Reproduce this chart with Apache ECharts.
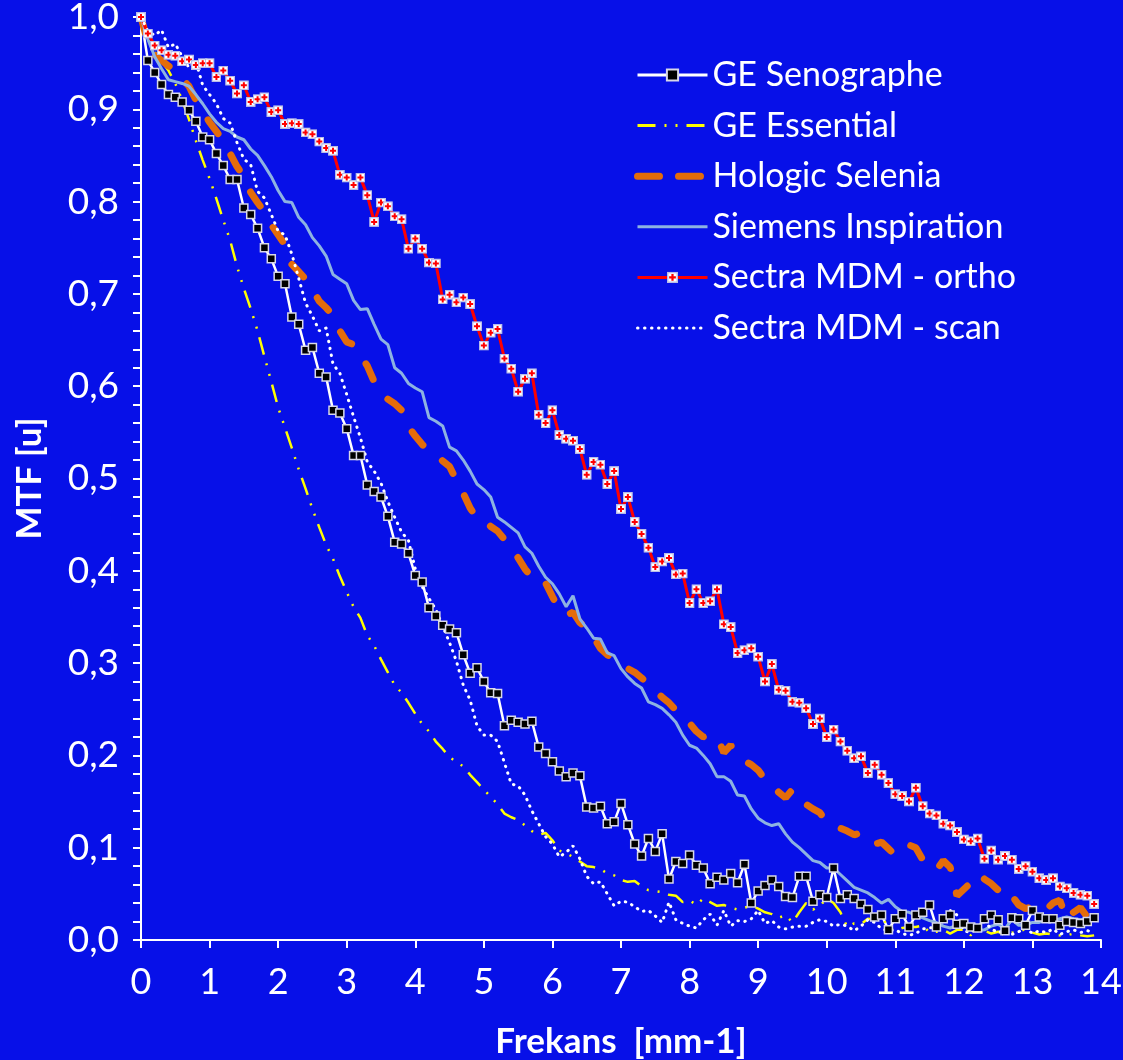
<!DOCTYPE html>
<html>
<head>
<meta charset="utf-8">
<script src="https://cdn.jsdelivr.net/npm/echarts@6/dist/echarts.min.js"></script>
<style>
html,body{margin:0;padding:0;background:#0710e8;}
#chart{width:1123px;height:1060px;}
</style>
</head>
<body>
<div id="chart"></div>
<script>
// Spatial frequency (mm-1)
const freq = [0,0.1,0.2,0.3,0.4,0.5,0.6,0.7,0.8,0.9,1,1.1,1.2,1.3,1.4,1.5,1.6,1.7,1.8,1.9,2,2.1,2.2,2.3,2.4,2.5,2.6,2.7,2.8,2.9,3,3.1,3.2,3.3,3.4,3.5,3.6,3.7,3.8,3.9,4,4.1,4.2,4.3,4.4,4.5,4.6,4.7,4.8,4.9,5,5.1,5.2,5.3,5.4,5.5,5.6,5.7,5.8,5.9,6,6.1,6.2,6.3,6.4,6.5,6.6,6.7,6.8,6.9,7,7.1,7.2,7.3,7.4,7.5,7.6,7.7,7.8,7.9,8,8.1,8.2,8.3,8.4,8.5,8.6,8.7,8.8,8.9,9,9.1,9.2,9.3,9.4,9.5,9.6,9.7,9.8,9.9,10,10.1,10.2,10.3,10.4,10.5,10.6,10.7,10.8,10.9,11,11.1,11.2,11.3,11.4,11.5,11.6,11.7,11.8,11.9,12,12.1,12.2,12.3,12.4,12.5,12.6,12.7,12.8,12.9,13,13.1,13.2,13.3,13.4,13.5,13.6,13.7,13.8,13.9];

const geSenographe = [1.000,0.953,0.940,0.927,0.916,0.913,0.908,0.899,0.887,0.870,0.867,0.852,0.839,0.824,0.824,0.793,0.786,0.771,0.750,0.738,0.719,0.711,0.675,0.667,0.639,0.642,0.614,0.610,0.574,0.571,0.554,0.525,0.525,0.493,0.486,0.480,0.459,0.431,0.429,0.419,0.395,0.388,0.360,0.351,0.341,0.337,0.333,0.309,0.289,0.295,0.280,0.268,0.267,0.232,0.238,0.236,0.234,0.237,0.209,0.202,0.193,0.183,0.177,0.181,0.178,0.144,0.143,0.145,0.126,0.128,0.148,0.125,0.104,0.091,0.110,0.096,0.115,0.066,0.085,0.083,0.092,0.081,0.078,0.061,0.068,0.065,0.072,0.062,0.082,0.040,0.053,0.059,0.065,0.058,0.047,0.046,0.069,0.069,0.042,0.049,0.046,0.078,0.045,0.049,0.045,0.039,0.033,0.025,0.027,0.011,0.023,0.028,0.014,0.027,0.030,0.038,0.014,0.023,0.027,0.017,0.018,0.014,0.013,0.023,0.027,0.022,0.010,0.024,0.023,0.016,0.032,0.025,0.023,0.023,0.016,0.020,0.019,0.018,0.020,0.024];

const geEssential = [1.000,0.975,0.962,0.952,0.942,0.928,0.910,0.889,0.866,0.845,0.825,0.803,0.780,0.758,0.730,0.706,0.684,0.660,0.632,0.605,0.577,0.555,0.533,0.510,0.489,0.467,0.447,0.428,0.413,0.394,0.377,0.361,0.349,0.330,0.319,0.304,0.290,0.276,0.268,0.257,0.245,0.234,0.226,0.215,0.207,0.198,0.193,0.188,0.179,0.171,0.163,0.155,0.147,0.137,0.133,0.130,0.124,0.118,0.114,0.116,0.108,0.097,0.094,0.090,0.085,0.080,0.079,0.077,0.072,0.070,0.065,0.063,0.064,0.058,0.054,0.053,0.052,0.049,0.048,0.041,0.043,0.038,0.045,0.041,0.037,0.038,0.035,0.033,0.035,0.037,0.034,0.030,0.028,0.024,0.027,0.019,0.030,0.040,0.033,0.037,0.045,0.040,0.030,0.014,0.018,0.017,0.023,0.022,0.026,0.013,0.010,0.013,0.014,0.014,0.016,0.008,0.009,0.011,0.007,0.011,0.011,0.005,0.014,0.010,0.007,0.009,0.005,0.008,0.009,0.012,0.008,0.006,0.007,0.006,0.005,0.005,0.007,0.005,0.004,0.005];

const hologicSelenia = [1.000,0.972,0.959,0.953,0.947,0.942,0.933,0.925,0.910,0.898,0.886,0.876,0.866,0.852,0.838,0.827,0.810,0.799,0.789,0.775,0.764,0.753,0.732,0.724,0.716,0.705,0.692,0.685,0.677,0.660,0.648,0.645,0.634,0.622,0.605,0.593,0.586,0.581,0.574,0.556,0.546,0.537,0.530,0.525,0.519,0.513,0.498,0.484,0.468,0.457,0.455,0.448,0.443,0.434,0.424,0.414,0.402,0.393,0.394,0.387,0.372,0.358,0.352,0.355,0.344,0.338,0.328,0.316,0.309,0.304,0.298,0.294,0.290,0.284,0.277,0.270,0.263,0.257,0.249,0.242,0.235,0.226,0.220,0.222,0.220,0.203,0.211,0.200,0.194,0.190,0.184,0.174,0.168,0.160,0.154,0.163,0.152,0.147,0.142,0.138,0.128,0.125,0.121,0.118,0.114,0.116,0.110,0.104,0.106,0.099,0.092,0.098,0.103,0.100,0.087,0.080,0.076,0.086,0.079,0.048,0.055,0.062,0.072,0.066,0.061,0.054,0.058,0.048,0.038,0.034,0.036,0.038,0.033,0.040,0.043,0.022,0.030,0.035,0.025,0.034];

const siemensInspiration = [1.000,0.976,0.957,0.944,0.932,0.930,0.928,0.925,0.916,0.906,0.895,0.886,0.879,0.876,0.870,0.867,0.857,0.850,0.839,0.827,0.812,0.800,0.799,0.783,0.775,0.761,0.752,0.741,0.721,0.716,0.711,0.693,0.683,0.684,0.667,0.651,0.645,0.620,0.614,0.603,0.598,0.594,0.566,0.562,0.557,0.534,0.530,0.520,0.508,0.494,0.488,0.480,0.458,0.453,0.447,0.441,0.426,0.419,0.405,0.393,0.386,0.375,0.361,0.373,0.348,0.338,0.327,0.326,0.311,0.308,0.294,0.285,0.278,0.273,0.258,0.255,0.251,0.244,0.236,0.222,0.211,0.208,0.200,0.191,0.177,0.177,0.172,0.157,0.156,0.142,0.132,0.127,0.124,0.126,0.115,0.106,0.100,0.093,0.086,0.084,0.078,0.078,0.071,0.064,0.057,0.054,0.051,0.046,0.040,0.044,0.036,0.031,0.030,0.027,0.024,0.021,0.019,0.015,0.013,0.016,0.014,0.012,0.010,0.011,0.015,0.017,0.012,0.022,0.016,0.016,0.019,0.019,0.022,0.021,0.023,0.025,0.023,0.022,0.023,0.025];

const sectraOrtho = [1.000,0.982,0.969,0.964,0.959,0.958,0.952,0.954,0.948,0.950,0.950,0.935,0.942,0.931,0.917,0.926,0.908,0.911,0.913,0.897,0.899,0.884,0.885,0.884,0.875,0.873,0.865,0.858,0.855,0.829,0.826,0.818,0.826,0.807,0.778,0.799,0.795,0.784,0.781,0.749,0.760,0.749,0.734,0.733,0.694,0.699,0.691,0.696,0.689,0.665,0.644,0.658,0.662,0.630,0.619,0.594,0.608,0.614,0.569,0.560,0.574,0.547,0.543,0.541,0.532,0.504,0.518,0.515,0.494,0.508,0.467,0.480,0.453,0.440,0.425,0.404,0.410,0.414,0.396,0.397,0.365,0.380,0.365,0.367,0.380,0.342,0.339,0.311,0.314,0.316,0.307,0.280,0.299,0.271,0.270,0.258,0.257,0.251,0.234,0.240,0.220,0.228,0.215,0.205,0.197,0.199,0.181,0.190,0.179,0.170,0.158,0.156,0.150,0.165,0.145,0.137,0.135,0.126,0.124,0.117,0.109,0.107,0.110,0.088,0.097,0.087,0.091,0.087,0.077,0.080,0.074,0.067,0.065,0.067,0.058,0.056,0.051,0.049,0.048,0.039];

const sectraScan = [1.000,0.985,0.980,0.986,0.967,0.971,0.957,0.945,0.952,0.926,0.916,0.906,0.890,0.885,0.864,0.846,0.840,0.811,0.804,0.786,0.768,0.764,0.743,0.717,0.690,0.676,0.660,0.663,0.624,0.614,0.591,0.567,0.544,0.518,0.508,0.495,0.475,0.458,0.442,0.433,0.402,0.383,0.370,0.358,0.340,0.322,0.302,0.276,0.260,0.232,0.222,0.222,0.215,0.192,0.169,0.167,0.157,0.140,0.126,0.112,0.104,0.090,0.095,0.102,0.088,0.069,0.061,0.063,0.050,0.037,0.042,0.041,0.036,0.031,0.032,0.026,0.019,0.041,0.022,0.018,0.015,0.013,0.022,0.028,0.016,0.032,0.015,0.021,0.020,0.023,0.032,0.018,0.021,0.014,0.012,0.014,0.015,0.015,0.019,0.022,0.020,0.015,0.017,0.015,0.010,0.015,0.022,0.019,0.012,0.010,0.011,0.007,0.005,0.007,0.012,0.013,0.014,0.020,0.032,0.027,0.010,0.008,0.014,0.020,0.012,0.008,0.011,0.006,0.009,0.013,0.007,0.010,0.008,0.012,0.006,0.009,0.011,0.008,0.010,0.009];

const seriesNames = ['GE Senographe','GE Essential','Hologic Selenia','Siemens Inspiration','Sectra MDM - ortho','Sectra MDM - scan'];
const yTickLabels = ['0,0','0,1','0,2','0,3','0,4','0,5','0,6','0,7','0,8','0,9','1,0'];
const xTickLabels = ['0','1','2','3','4','5','6','7','8','9','10','11','12','13','14'];

const pairs = vals => freq.map((f, i) => [f, vals[i]]);

const orthoSvg = '<svg xmlns="http://www.w3.org/2000/svg" width="11" height="11"><rect x="0.75" y="0.75" width="9.5" height="9.5" fill="#ffffff" stroke="#b8bce8" stroke-width="1.5"/><path d="M4.4 2.2h2.2v2.2h2.2v2.2h-2.2v2.2h-2.2v-2.2h-2.2v-2.2h2.2z" fill="#ff0000"/></svg>';
const orthoSymbol = 'image://data:image/svg+xml;charset=utf-8,' + encodeURIComponent(orthoSvg);

const FONT = 'Lato';
const noMarker = { opacity: 0 };
const chart = echarts.init(document.getElementById('chart'));
chart.setOption({
  backgroundColor: '#0710e8',
  animation: false,
  grid: { left: 141, top: 17, right: 22, bottom: 120, outerBoundsMode: 'none', containLabel: false },
  legend: {
    orient: 'vertical',
    left: 634,
    top: 56,
    padding: 0,
    itemWidth: 70,
    itemHeight: 14,
    itemGap: 12.6,
    textStyle: { color: '#ffffff', fontSize: 34, fontFamily: FONT, lineHeight: 38 },
    data: [
      { name: seriesNames[0], lineStyle: { width: 3 } },
      { name: seriesNames[1], itemStyle: noMarker, lineStyle: { width: 3 } },
      { name: seriesNames[2], itemStyle: noMarker, lineStyle: { width: 7, type: [22, 19], cap: 'round' } },
      { name: seriesNames[3], itemStyle: noMarker, lineStyle: { width: 3 } },
      { name: seriesNames[4], lineStyle: { width: 3 } },
      { name: seriesNames[5], itemStyle: noMarker, lineStyle: { width: 3 } }
    ]
  },
  xAxis: {
    type: 'value', min: 0, max: 14, interval: 1,
    name: 'Frekans  [mm-1]', nameLocation: 'middle', nameGap: 84,
    nameTextStyle: { color: '#ffffff', fontSize: 35, fontWeight: 'bold', fontFamily: FONT },
    axisLine: { show: true, lineStyle: { color: '#ffffff', width: 2 } },
    axisTick: { show: true, inside: false, length: 8, lineStyle: { color: '#ffffff', width: 2 } },
    axisLabel: { color: '#ffffff', fontSize: 36, fontFamily: FONT, margin: 24,
      formatter: v => xTickLabels[Math.round(v)] },
    splitLine: { show: false }
  },
  yAxis: {
    type: 'value', min: 0, max: 1, interval: 0.1,
    name: 'MTF [u]', nameLocation: 'middle', nameGap: 94, nameRotate: 90,
    nameTextStyle: { color: '#ffffff', fontSize: 35, fontWeight: 'bold', fontFamily: FONT },
    axisLine: { show: true, lineStyle: { color: '#ffffff', width: 2 } },
    axisTick: { show: true, inside: false, length: 8, lineStyle: { color: '#ffffff', width: 2 } },
    minorTick: { show: true, splitNumber: 5, length: 8, lineStyle: { color: '#ffffff', width: 2 } },
    axisLabel: { color: '#ffffff', fontSize: 37, fontFamily: FONT, margin: 22,
      formatter: v => yTickLabels[Math.round(v * 10)] },
    splitLine: { show: false }
  },
  series: [
    { name: seriesNames[0], type: 'line', data: pairs(geSenographe), clip: false,
      symbol: 'rect', symbolSize: 8, showAllSymbol: true,
      itemStyle: { color: '#000000', borderColor: '#d8d8e8', borderWidth: 1.5 },
      lineStyle: { color: '#ffffff', width: 2.5 } },
    { name: seriesNames[1], type: 'line', data: pairs(geEssential), clip: false,
      symbol: 'none', itemStyle: { color: '#ffff00' },
      lineStyle: { color: '#ffff00', width: 2.5, type: [18, 9, 2, 9, 2, 9] } },
    { name: seriesNames[2], type: 'line', data: pairs(hologicSelenia), clip: false,
      symbol: 'none', itemStyle: { color: '#e46c0a' },
      lineStyle: { color: '#e46c0a', width: 7, type: [17, 25], cap: 'round' } },
    { name: seriesNames[3], type: 'line', data: pairs(siemensInspiration), clip: false,
      symbol: 'none', itemStyle: { color: '#8db3e2' },
      lineStyle: { color: '#8db3e2', width: 3 } },
    { name: seriesNames[4], type: 'line', data: pairs(sectraOrtho), clip: false,
      symbol: orthoSymbol, symbolSize: 10, showAllSymbol: true,
      itemStyle: { color: '#ff0000' },
      lineStyle: { color: '#ff0000', width: 3 } },
    { name: seriesNames[5], type: 'line', data: pairs(sectraScan), clip: false,
      symbol: 'none', itemStyle: { color: '#ffffff' },
      lineStyle: { color: '#ffffff', width: 3, type: [0.5, 6.5], cap: 'round' } }
  ]
});
</script>
</body>
</html>
